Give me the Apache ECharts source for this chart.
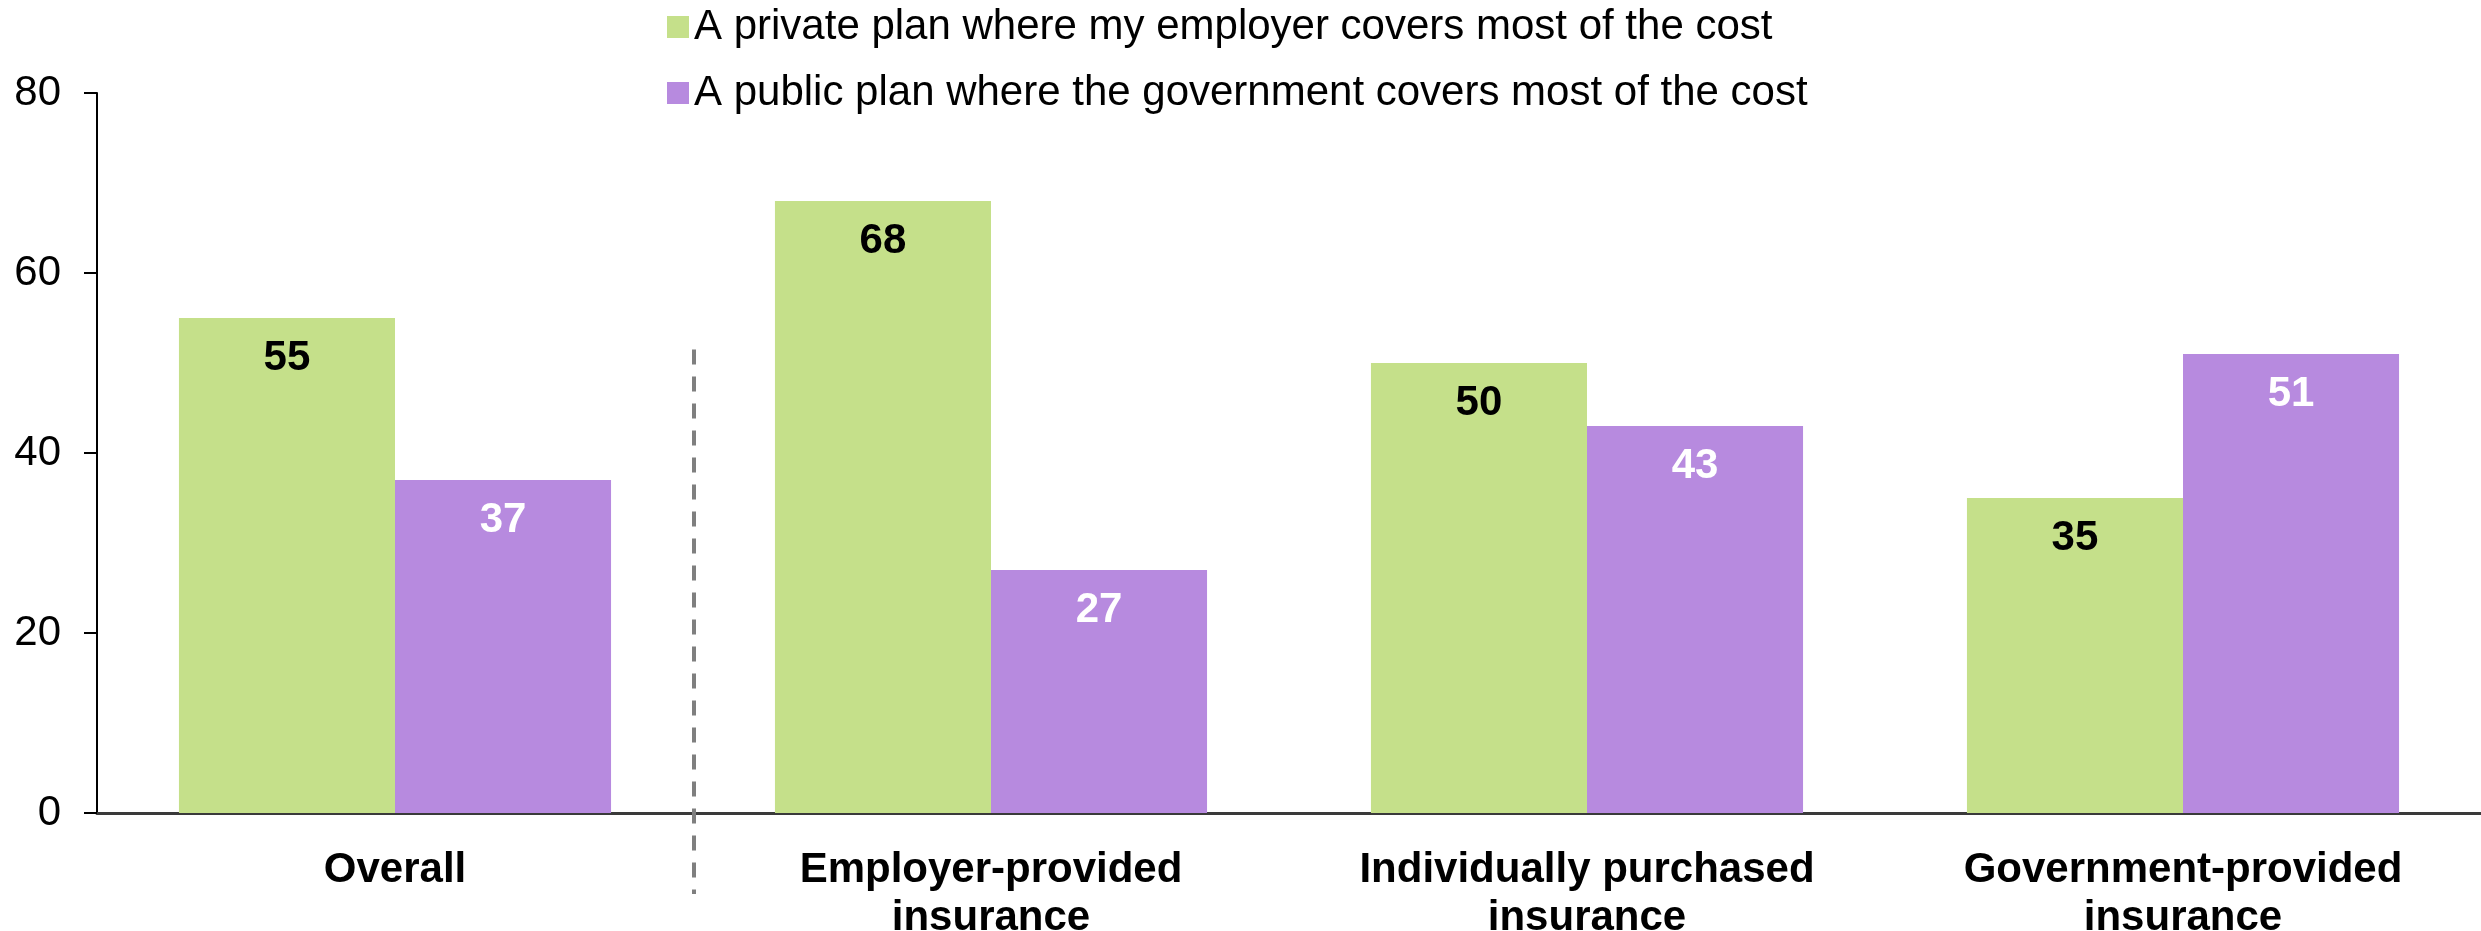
<!DOCTYPE html>
<html>
<head>
<meta charset="utf-8">
<title>Preferred health plan by insurance type</title>
<script src="https://cdn.jsdelivr.net/npm/echarts@6/dist/echarts.min.js"></script>
<style>
  html, body { margin: 0; padding: 0; background: #ffffff; }
  #chart { width: 2481px; height: 931px; }
</style>
</head>
<body>
<div id="chart"></div>
<script>
// Groups shown along the x axis
const categories = [
  'Overall',
  'Employer-provided\ninsurance',
  'Individually purchased\ninsurance',
  'Government-provided\ninsurance'
];

// Series names
const privateName = 'A private plan where my employer covers most of the cost';
const publicName = 'A public plan where the government covers most of the cost';

// Percent preferring each plan
const privateValues = [55, 68, 50, 35];
const publicValues = [37, 27, 43, 51];

// Y axis range and step
const yMin = 0;
const yMax = 80;
const yStep = 20;

const FONT = '"Liberation Sans", Arial, sans-serif';
const GREEN = '#C5E08A';
const PURPLE = '#B78ADF';

const chart = echarts.init(document.getElementById('chart'), null, { renderer: 'canvas' });

const valueLabel = (color) => ({
  show: true,
  position: 'insideTop',
  distance: 19,
  color: color,
  fontFamily: FONT,
  fontSize: 42,
  fontWeight: 'bold',
  lineHeight: 42
});

chart.setOption({
  animation: false,
  backgroundColor: '#ffffff',
  textStyle: { fontFamily: FONT },
  legend: {
    orient: 'vertical',
    left: 662,
    top: 1,
    itemWidth: 22,
    itemHeight: 22,
    itemGap: 24,
    icon: 'rect',
    textStyle: {
      fontFamily: FONT,
      fontSize: 42,
      lineHeight: 42,
      color: '#000000',
      padding: [0, 0, 0, 0]
    },
    data: [privateName, publicName]
  },
  grid: {
    left: 97,
    right: 0,
    top: 93,
    bottom: 118,
    containLabel: false,
    outerBoundsMode: 'none'
  },
  xAxis: {
    type: 'category',
    data: categories,
    axisLine: { show: true, lineStyle: { color: '#3a3a3a', width: 3 } },
    axisTick: { show: false },
    axisLabel: {
      interval: 0,
      margin: 33,
      color: '#000000',
      fontFamily: FONT,
      fontSize: 42,
      fontWeight: 'bold',
      lineHeight: 48
    },
    splitLine: { show: false }
  },
  yAxis: {
    type: 'value',
    min: yMin,
    max: yMax,
    interval: yStep,
    axisLine: { show: true, lineStyle: { color: '#000000', width: 2 } },
    axisTick: { show: true, inside: false, length: 13, lineStyle: { color: '#000000', width: 2 } },
    axisLabel: {
      margin: 36,
      color: '#000000',
      fontFamily: FONT,
      fontSize: 42
    },
    splitLine: { show: false }
  },
  series: [
    {
      name: privateName,
      type: 'bar',
      data: privateValues,
      itemStyle: { color: GREEN },
      barGap: '0%',
      barCategoryGap: '27.5%',
      label: valueLabel('#000000')
    },
    {
      name: publicName,
      type: 'bar',
      data: publicValues,
      itemStyle: { color: PURPLE },
      barGap: '0%',
      barCategoryGap: '27.5%',
      label: valueLabel('#ffffff')
    }
  ]
});

// Dashed divider between the overall group and the breakdown groups
function drawDivider() {
  const c0 = chart.convertToPixel({ xAxisIndex: 0 }, categories[0]);
  const c1 = chart.convertToPixel({ xAxisIndex: 0 }, categories[1]);
  const x = (c0 + c1) / 2 + 1;
  const yTop = chart.convertToPixel({ yAxisIndex: 0 }, 51.5);
  const yZero = chart.convertToPixel({ yAxisIndex: 0 }, 0);
  chart.setOption({
    graphic: [{
      type: 'line',
      id: 'divider',
      z: 10,
      shape: { x1: x, y1: yTop, x2: x, y2: yZero + 81 },
      style: { stroke: '#7F7F7F', lineWidth: 4, lineDash: [15, 12] },
      silent: true
    }]
  });
}
drawDivider();
</script>
</body>
</html>
